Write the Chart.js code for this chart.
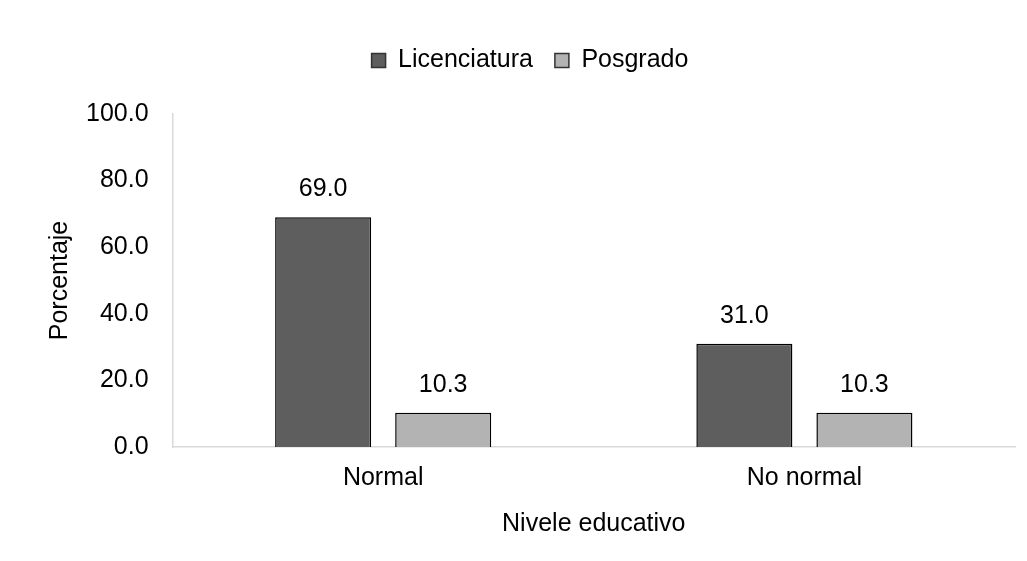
<!DOCTYPE html>
<html>
<head>
<meta charset="utf-8">
<script src="https://cdn.jsdelivr.net/npm/chart.js@4/dist/chart.umd.min.js"></script>
<style>
  html, body { margin: 0; padding: 0; background: #fff; }
  #wrap { width: 1027px; height: 561px; }
</style>
</head>
<body>
<div id="wrap"><canvas id="chart"></canvas></div>
<script>
// data
const categories = ['Normal', 'No normal'];
const licenciatura = [69.0, 31.0];
const posgrado = [10.3, 10.3];
const yTicks = [0, 20, 40, 60, 80, 100];

const FONT = "'Liberation Sans', Arial, sans-serif";
const SIZE = 25;

// value labels above each bar
const barLabels = {
    id: 'barLabels',
    afterDatasetsDraw(chart) {
        const ctx = chart.ctx;
        ctx.save();
        ctx.font = SIZE + 'px ' + FONT;
        ctx.fillStyle = '#000';
        ctx.textAlign = 'center';
        ctx.textBaseline = 'middle';
        chart.data.datasets.forEach((ds, i) => {
            chart.getDatasetMeta(i).data.forEach((bar, j) => {
                ctx.fillText(ds.data[j].toFixed(1), bar.x, bar.y - 28);
            });
        });
        ctx.restore();
    }
};

// extra room under the legend
const legendSpace = {
    id: 'legendSpace',
    beforeInit(chart) {
        const fit = chart.legend.fit;
        chart.legend.fit = function () {
            fit.bind(chart.legend)();
            this.height += 31;
        };
    }
};

new Chart(document.getElementById('chart'), {
    type: 'bar',
    data: {
        labels: categories,
        datasets: [
            {
                label: 'Licenciatura',
                data: licenciatura,
                backgroundColor: '#5e5e5e',
                borderColor: '#000',
                borderWidth: 1.5,
            },
            {
                label: 'Posgrado',
                data: posgrado,
                backgroundColor: '#b3b3b3',
                borderColor: '#000',
                borderWidth: 1.5,
            }
        ]
    },
    options: {
        responsive: true,
        maintainAspectRatio: false,
        animation: false,
        categoryPercentage: 0.57,
        barPercentage: 0.8,
        layout: { padding: { top: 26, right: 12, bottom: 18, left: 45 } },
        plugins: {
            legend: {
                position: 'top',
                labels: {
                    color: '#000',
                    font: { family: FONT, size: SIZE },
                    boxWidth: 14, boxHeight: 14,
                    padding: 22,
                    generateLabels(chart) {
                        return chart.data.datasets.map((ds, i) => ({
                            text: ds.label,
                            fillStyle: ds.backgroundColor,
                            strokeStyle: '#333',
                            lineWidth: 1.5,
                            datasetIndex: i,
                        }));
                    }
                }
            },
            tooltip: { enabled: false },
        },
        scales: {
            x: {
                grid: { display: false, drawTicks: false },
                border: { color: '#d9d9d9', width: 1.5 },
                ticks: { color: '#000', font: { family: FONT, size: SIZE }, padding: 16 },
                title: {
                    display: true, text: 'Nivele educativo', color: '#000',
                    font: { family: FONT, size: SIZE }, padding: { top: 0, bottom: 4 }
                }
            },
            y: {
                min: 0, max: 100,
                afterBuildTicks(axis) { axis.ticks = yTicks.map(v => ({ value: v })); },
                grid: { display: false, drawTicks: false },
                border: { color: '#d9d9d9', width: 1.5 },
                ticks: {
                    color: '#000', font: { family: FONT, size: SIZE }, padding: 24,
                    callback: v => v.toFixed(1)
                },
                title: {
                    display: true, text: 'Porcentaje', color: '#000',
                    font: { family: FONT, size: SIZE }, padding: { top: 0, bottom: -13 }
                }
            }
        }
    },
    plugins: [barLabels, legendSpace]
});
</script>
</body>
</html>
